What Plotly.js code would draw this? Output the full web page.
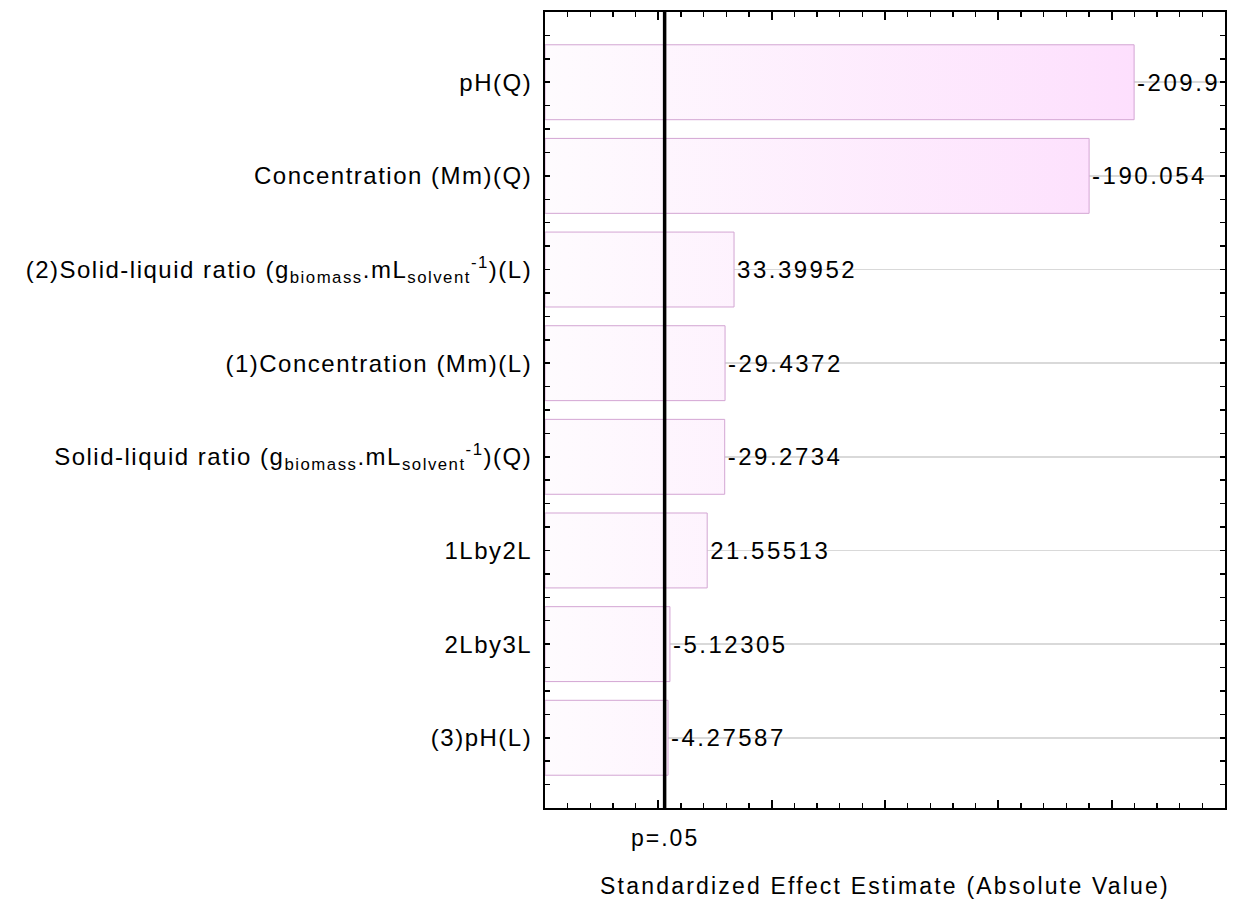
<!DOCTYPE html>
<html>
<head>
<meta charset="utf-8">
<script src="https://cdn.plot.ly/plotly-3.0.1.min.js"></script>
<style>
html, body { margin: 0; padding: 0; background: #fff; }
#chart { width: 1238px; height: 903px; }
#chart .ytick text { letter-spacing: 1.5px; }
text.bartext { letter-spacing: 2.5px; }
text.xtitle { letter-spacing: 2.2px; }
text.annotation-text { letter-spacing: 2px; }
</style>
</head>
<body>
<div id="chart"></div>
<script>
// Pareto chart of standardized effects
var factors = [
  "pH(Q)",
  "Concentration (Mm)(Q)",
  "(2)Solid-liquid ratio (g<sub>biomass</sub>.mL<sub>solvent</sub><sup>-1</sup>)(L)",
  "(1)Concentration (Mm)(L)",
  "Solid-liquid ratio (g<sub>biomass</sub>.mL<sub>solvent</sub><sup>-1</sup>)(Q)",
  "1Lby2L",
  "2Lby3L",
  "(3)pH(L)"
];
var effects = [-209.9, -190.054, 33.39952, -29.4372, -29.2734, 21.55513, -5.12305, -4.27587];
var effectLabels = ["-209.9", "-190.054", "33.39952", "-29.4372", "-29.2734", "21.55513", "-5.12305", "-4.27587"];
var pCritical = 2.776;   // p = .05 reference line
var pLabel = "p=.05";
var xAxisMin = -50, xAxisMax = 250;
var xTitle = "Standardized Effect Estimate (Absolute Value)";

var idx = factors.map(function (_, i) { return i; });
var absVals = effects.map(function (v) { return Math.abs(v); });
var maxAbs = Math.max.apply(null, absVals);
var BAR_W = 0.8;

var FONT = "Liberation Sans, Arial, sans-serif";

// gradient-filled bar bodies (one polygon per bar, built from the data arrays)
var fills = absVals.map(function (v, i) {
  var y0 = idx[i] - BAR_W / 2, y1 = idx[i] + BAR_W / 2;
  return {
    type: "scatter",
    mode: "lines",
    x: [xAxisMin, v, v, xAxisMin, xAxisMin],
    y: [y0, y0, y1, y1, y0],
    fill: "toself",
    fillgradient: {
      type: "horizontal",
      start: xAxisMin,
      stop: maxAbs,
      colorscale: [[0, "#fefbfe"], [1, "#fddffd"]]
    },
    line: { color: "#d3a5d3", width: 1 },
    hoverinfo: "skip"
  };
});

// bar trace carrying the value labels
var bars = {
  type: "bar",
  orientation: "h",
  y: idx,
  base: xAxisMin,
  x: absVals.map(function (v) { return v - xAxisMin; }),
  width: BAR_W,
  marker: { color: "rgba(0,0,0,0)", line: { width: 0 } },
  text: effectLabels,
  textposition: "outside",
  textfont: { family: FONT, size: 24, color: "#000" },
  cliponaxis: false,
  hoverinfo: "skip"
};

var layout = {
  width: 1238,
  height: 903,
  margin: { l: 545, r: 13, t: 12, b: 95 },
  paper_bgcolor: "#fff",
  plot_bgcolor: "#fff",
  showlegend: false,
  font: { family: FONT, size: 24, color: "#000" },
  xaxis: {
    range: [xAxisMin, xAxisMax],
    tick0: 0,
    dtick: 50,
    ticks: "inside",
    ticklen: 8,
    tickwidth: 2,
    tickcolor: "#000",
    showticklabels: false,
    showgrid: false,
    zeroline: false,
    showline: true,
    linecolor: "#000",
    linewidth: 2,
    mirror: "ticks",
    minor: { dtick: 10, tick0: 0, ticks: "inside", ticklen: 5, tickwidth: 1.5, tickcolor: "#000", showgrid: false },
    title: { text: xTitle, font: { family: FONT, size: 23, color: "#000" }, standoff: 69 },
    automargin: false
  },
  yaxis: {
    range: [7.75, -0.75],
    tickmode: "array",
    tickvals: idx,
    ticktext: factors,
    ticks: "inside",
    ticklen: 5,
    tickwidth: 1.5,
    tickcolor: "#000",
    ticklabelstandoff: 6,
    tickfont: { family: FONT, size: 24, color: "#000" },
    showgrid: true,
    gridcolor: "#d9d9d9",
    gridwidth: 1.5,
    zeroline: false,
    showline: true,
    linecolor: "#000",
    linewidth: 2,
    mirror: "ticks",
    minor: { tickmode: "linear", dtick: 0.25, tick0: 0, ticks: "inside", ticklen: 5, tickwidth: 1.5, tickcolor: "#000", showgrid: false },
    automargin: false
  },
  shapes: [{
    type: "line",
    xref: "x", yref: "paper",
    x0: pCritical, x1: pCritical, y0: 0, y1: 1,
    line: { color: "#000", width: 3.5 },
    layer: "above"
  }],
  annotations: [{
    xref: "x", yref: "paper",
    x: pCritical, y: 0,
    yshift: -30,
    text: pLabel,
    showarrow: false,
    xanchor: "center", yanchor: "middle",
    font: { family: FONT, size: 23, color: "#000" }
  }]
};

Plotly.newPlot("chart", fills.concat([bars]), layout, { displayModeBar: false, staticPlot: true });
</script>
</body>
</html>
